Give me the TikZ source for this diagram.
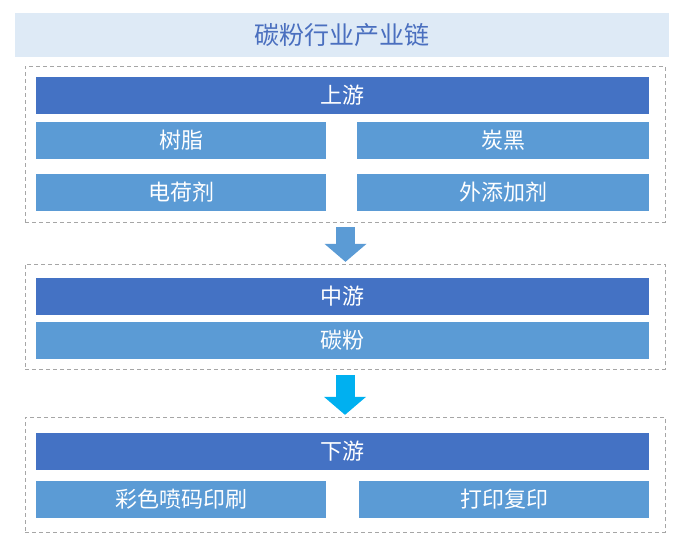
\documentclass[tikz,border=0pt]{standalone}
\usepackage{fontspec}
\newfontfamily\cjk{Noto Sans CJK SC}
\usepackage{tikz}
\usetikzlibrary{arrows.meta,positioning,calc}
\definecolor{darkbar}{HTML}{4472C4}
\definecolor{lightbar}{HTML}{5B9BD5}
\definecolor{titlefill}{HTML}{DEEAF6}
\definecolor{titletext}{HTML}{4A6FBF}
\definecolor{dashgray}{HTML}{A6A6A6}
\definecolor{cyanarrow}{HTML}{00B0F0}
\tikzset{%
    stage/.style={draw=dashgray,line width=0.9pt,dash pattern=on 4pt off 3pt,minimum width=640pt},
    flow/.style={line width=19pt,shorten <=5pt,shorten >=2pt,-{Triangle[width=41pt,length=18pt]}},
}
\tikzstyle{head}=[fill=darkbar, text=white, minimum width=613pt, minimum height=36.7pt, inner sep=0pt, font=\cjk\fontsize{22}{24}\selectfont]
\tikzstyle{item}=[fill=lightbar, text=white, minimum width=290pt, minimum height=36.7pt, inner sep=0pt, font=\cjk\fontsize{22}{24}\selectfont]

\begin{document}
\begin{tikzpicture}[x=1pt,y=-1pt]
      \useasboundingbox (0,0) rectangle (685,550);
      \node [fill=titlefill, text=titletext, minimum width=654pt, minimum height=44pt, font=\cjk\fontsize{25}{28}\selectfont] (title) at (342,34.7) {碳粉行业产业链};

      % upstream
      \node [stage, minimum height=156pt] (up) at (345,144) {};
      \node [head] (uphead) at (342.5,95.3) {上游};
      \node [item] (resin) at (181,140.3) {树脂};
      \node [item, minimum width=292pt] (carbon) at (503,140.3) {炭黑};
      \node [item] (charge) at (181,192.3) {电荷剂};
      \node [item, minimum width=292pt] (additive) at (503,192.3) {外添加剂};

      % midstream
      \node [stage, minimum height=105pt] (mid) at (345,316.8) {};
      \node [head] (midhead) at (342.5,296.5) {中游};
      \node [item, minimum width=613pt] (toner) at (342.5,340.5) {碳粉};

      % downstream
      \node [stage, minimum height=115pt] (down) at (345,474.8) {};
      \node [head] (downhead) at (342.5,451.3) {下游};
      \node [item] (inkjet) at (181,499.3) {彩色喷码印刷};
      \node [item] (copy) at (504,499.3) {打印复印};

      \draw [flow, lightbar] (up.south -| 345.5,0) -- (mid.north -| 345.5,0);
      \draw [flow, cyanarrow] (mid.south -| 345,0) -- (down.north -| 345,0);
\end{tikzpicture}
\end{document}
